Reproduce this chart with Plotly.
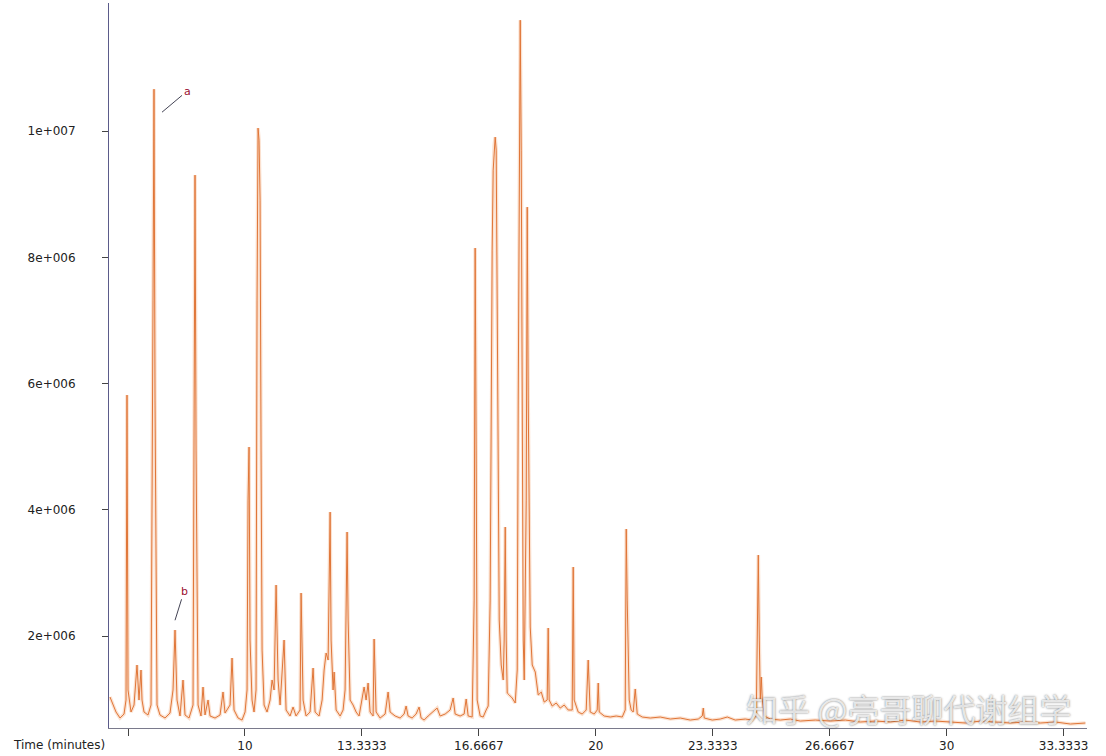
import plotly.graph_objects as go

# Chromatogram trace vertices (time in minutes, intensity in counts)
time_min = [
    6.153, 6.239, 6.325, 6.439, 6.553, 6.610, 6.638, 6.667, 6.752, 6.838,
    6.923, 6.980, 7.037, 7.066, 7.123, 7.237, 7.323, 7.380, 7.408, 7.437,
    7.494, 7.579, 7.722, 7.864, 7.950, 8.007, 8.064, 8.149, 8.235, 8.292,
    8.406, 8.520, 8.548, 8.577, 8.606, 8.663, 8.748, 8.805, 8.862, 8.948,
    9.005, 9.147, 9.290, 9.375, 9.432, 9.575, 9.632, 9.689, 9.803, 9.917,
    10.003, 10.060, 10.088, 10.117, 10.145, 10.202, 10.259, 10.316, 10.345, 10.373,
    10.402, 10.431, 10.459, 10.488, 10.545, 10.630, 10.716, 10.773, 10.830, 10.887,
    10.944, 11.001, 11.115, 11.172, 11.286, 11.371, 11.457, 11.571, 11.600, 11.657,
    11.742, 11.856, 11.942, 11.999, 12.113, 12.199, 12.256, 12.313, 12.370, 12.427,
    12.455, 12.512, 12.541, 12.598, 12.712, 12.797, 12.854, 12.883, 12.911, 12.940,
    12.997, 13.082, 13.168, 13.253, 13.339, 13.396, 13.453, 13.510, 13.567, 13.653,
    13.681, 13.738, 13.852, 13.995, 14.080, 14.137, 14.280, 14.422, 14.536, 14.593,
    14.650, 14.764, 14.878, 14.964, 15.021, 15.107, 15.221, 15.335, 15.477, 15.563,
    15.705, 15.848, 15.934, 15.991, 16.133, 16.247, 16.305, 16.362, 16.476, 16.533,
    16.561, 16.590, 16.618, 16.704, 16.789, 16.875, 16.932, 16.989, 17.018, 17.046,
    17.075, 17.104, 17.132, 17.161, 17.189, 17.218, 17.247, 17.304, 17.361, 17.389,
    17.418, 17.446, 17.475, 17.532, 17.617, 17.703, 17.760, 17.789, 17.817, 17.846,
    17.874, 17.903, 17.931, 17.960, 18.017, 18.045, 18.074, 18.131, 18.188, 18.274,
    18.359, 18.445, 18.529, 18.614, 18.643, 18.671, 18.757, 18.871, 18.985, 19.099,
    19.213, 19.327, 19.356, 19.384, 19.498, 19.612, 19.726, 19.783, 19.840, 19.954,
    20.040, 20.069, 20.097, 20.240, 20.411, 20.582, 20.753, 20.838, 20.867, 20.895,
    20.952, 21.009, 21.066, 21.124, 21.181, 21.323, 21.552, 21.837, 22.122, 22.407,
    22.692, 22.920, 23.034, 23.063, 23.091, 23.319, 23.547, 23.747, 23.975, 24.260,
    24.460, 24.574, 24.602, 24.631, 24.660, 24.688, 24.717, 24.745, 24.802, 24.973,
    25.258, 25.543, 25.828, 26.256, 26.684, 27.111, 27.539, 27.967, 28.395, 28.822,
    29.250, 29.678, 30.106, 30.533, 30.961, 31.389, 31.816, 32.244, 32.672, 33.100,
    33.527, 33.955,
]

intensity = [
    1.034e6, 0.907e6, 0.796e6, 0.701e6, 0.764e6, 0.986e6, 5.818e6, 1.145e6, 0.796e6, 0.907e6,
    1.541e6, 0.986e6, 1.462e6, 0.986e6, 0.796e6, 0.749e6, 0.907e6, 7.323e6, 10.665e6, 5.739e6,
    0.907e6, 0.749e6, 0.701e6, 0.780e6, 1.145e6, 2.095e6, 0.986e6, 0.733e6, 1.303e6, 0.749e6,
    0.701e6, 0.907e6, 7.323e6, 9.303e6, 4.947e6, 0.907e6, 0.733e6, 1.192e6, 0.749e6, 0.986e6,
    0.733e6, 0.701e6, 0.749e6, 1.113e6, 0.780e6, 0.907e6, 1.652e6, 0.828e6, 0.701e6, 0.669e6,
    0.796e6, 1.145e6, 4.154e6, 4.994e6, 1.937e6, 0.986e6, 0.796e6, 1.145e6, 7.323e6, 10.048e6,
    9.857e6, 8.907e6, 4.947e6, 1.778e6, 0.907e6, 0.796e6, 0.986e6, 1.303e6, 1.145e6, 2.808e6,
    1.303e6, 0.907e6, 1.937e6, 0.828e6, 0.733e6, 0.875e6, 0.733e6, 0.828e6, 2.681e6, 0.986e6,
    0.733e6, 0.796e6, 1.493e6, 0.796e6, 0.733e6, 0.986e6, 1.462e6, 1.731e6, 1.620e6, 3.964e6,
    1.937e6, 1.145e6, 1.430e6, 0.828e6, 0.733e6, 0.828e6, 1.145e6, 2.570e6, 3.648e6, 2.254e6,
    0.986e6, 0.907e6, 0.796e6, 0.733e6, 0.986e6, 1.192e6, 0.986e6, 1.256e6, 0.796e6, 0.733e6,
    1.953e6, 0.796e6, 0.701e6, 0.764e6, 1.113e6, 0.796e6, 0.733e6, 0.701e6, 0.764e6, 0.891e6,
    0.733e6, 0.701e6, 0.764e6, 0.875e6, 0.701e6, 0.669e6, 0.733e6, 0.796e6, 0.859e6, 0.733e6,
    0.764e6, 0.828e6, 1.018e6, 0.764e6, 0.733e6, 0.764e6, 1.002e6, 0.733e6, 0.717e6, 2.570e6,
    8.147e6, 4.947e6, 0.986e6, 0.733e6, 0.717e6, 0.828e6, 0.891e6, 2.570e6, 5.739e6, 8.115e6,
    9.382e6, 9.778e6, 9.905e6, 9.699e6, 7.323e6, 4.154e6, 2.254e6, 1.541e6, 1.303e6, 1.937e6,
    3.727e6, 1.937e6, 1.097e6, 1.066e6, 1.018e6, 0.939e6, 1.462e6, 5.739e6, 9.699e6, 11.758e6,
    9.699e6, 5.739e6, 1.937e6, 1.303e6, 4.154e6, 8.796e6, 5.739e6, 2.143e6, 1.541e6, 1.430e6,
    1.066e6, 1.113e6, 0.954e6, 0.986e6, 2.127e6, 0.986e6, 0.891e6, 0.939e6, 0.859e6, 0.907e6,
    0.828e6, 0.828e6, 3.093e6, 0.986e6, 0.796e6, 0.764e6, 0.828e6, 1.620e6, 0.796e6, 0.764e6,
    0.828e6, 1.256e6, 0.796e6, 0.733e6, 0.717e6, 0.733e6, 0.717e6, 0.828e6, 3.695e6, 2.570e6,
    0.986e6, 0.828e6, 0.796e6, 1.161e6, 0.764e6, 0.717e6, 0.701e6, 0.717e6, 0.685e6, 0.701e6,
    0.669e6, 0.685e6, 0.733e6, 0.859e6, 0.701e6, 0.669e6, 0.685e6, 0.717e6, 0.669e6, 0.685e6,
    0.669e6, 0.733e6, 1.937e6, 3.283e6, 1.937e6, 0.986e6, 1.351e6, 0.986e6, 0.733e6, 0.685e6,
    0.669e6, 0.685e6, 0.653e6, 0.669e6, 0.653e6, 0.669e6, 0.638e6, 0.653e6, 0.638e6, 0.669e6,
    0.638e6, 0.653e6, 0.638e6, 0.622e6, 0.653e6, 0.638e6, 0.622e6, 0.638e6, 0.622e6, 0.638e6,
    0.606e6, 0.622e6,
]

x_tick_vals = [6.6667, 10, 13.3333, 16.6667, 20, 23.3333, 26.6667, 30, 33.3333]
x_tick_text = ["", "10", "13.3333", "16.6667", "20", "23.3333", "26.6667", "30", "33.3333"]
y_tick_vals = [2e6, 4e6, 6e6, 8e6, 1e7]
y_tick_text = ["2e+006", "4e+006", "6e+006", "8e+006", "1e+007"]

# labelled peaks: (label, time, intensity where the pointer line ends)
peak_labels = ["a", "b"]
peak_label_time = [7.636, 8.007]
peak_label_value = [10.30e6, 2.25e6]

x_range = [6.125, 34.0]
y_range = [0.543e6, 12.03e6]

fig = go.Figure()
fig.add_trace(go.Scatter(
    x=time_min, y=intensity, mode="lines",
    line=dict(color="rgba(243,170,120,0.35)", width=3.5),
    hoverinfo="skip", showlegend=False,
))
fig.add_trace(go.Scatter(
    x=time_min, y=intensity, mode="lines",
    line=dict(color="#e07638", width=1.0),
    showlegend=False,
))

offsets = [(25, -21), (9, -29)]
for lab, t, v, (ax, ay) in zip(peak_labels, peak_label_time, peak_label_value, offsets):
    fig.add_annotation(
        x=t, y=v, text=lab, showarrow=True, arrowhead=0, arrowwidth=1,
        arrowcolor="#444455", ax=ax, ay=ay, standoff=0,
        font=dict(family="DejaVu Sans", size=11, color="#9b1030"),
    )

fig.add_annotation(
    xref="paper", yref="paper", x=-0.002, y=-0.0234,
    xanchor="right", yanchor="middle", showarrow=False,
    text="Time (minutes)",
    font=dict(family="DejaVu Sans", size=12, color="#222222"),
)

fig.add_annotation(
    xref="paper", yref="paper", x=0.8175, y=0.028,
    xanchor="center", yanchor="middle", showarrow=False,
    text="知乎 @亮哥聊代谢组学",
    font=dict(family="Noto Sans CJK SC", size=32, color="rgba(255,255,255,0.8)",
              shadow="0px 0px 2px rgba(60,60,60,0.95)"),
)

fig.update_layout(
    width=1106, height=756,
    margin=dict(l=109, r=19, t=3, b=28),
    paper_bgcolor="white", plot_bgcolor="white",
    font=dict(family="DejaVu Sans", size=12, color="#222222"),
    xaxis=dict(
        range=x_range, showgrid=False, zeroline=False,
        showline=True, linecolor="#7a7a8c", linewidth=1,
        ticks="outside", ticklen=7, tickcolor="#444444",
        tickvals=x_tick_vals, ticktext=x_tick_text,
        tickfont=dict(size=12, color="#222222"),
    ),
    yaxis=dict(
        range=y_range, showgrid=False, zeroline=False,
        showline=True, linecolor="#5b5b8a", linewidth=1,
        ticks="outside", ticklen=6, tickcolor="#444444",
        tickvals=y_tick_vals, ticktext=y_tick_text,
        tickfont=dict(size=12, color="#222222"),
        ticklabelstandoff=24,
    ),
)

fig.write_html(
    "out.html",
    config={"displayModeBar": False},
    post_script="document.body.style.margin='0px'; document.body.style.overflow='hidden';",
)
